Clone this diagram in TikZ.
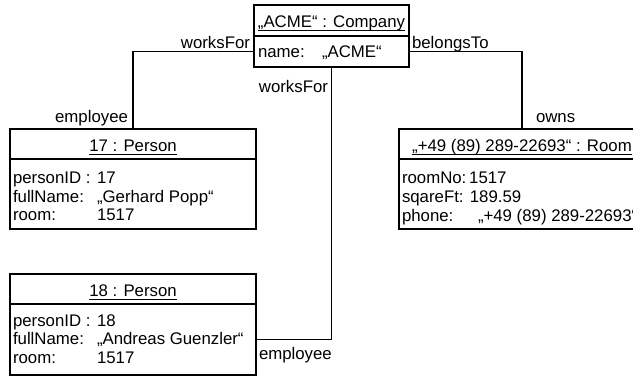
\documentclass[tikz,border=0pt]{standalone}
\usepackage{fontspec}
\setmainfont{Liberation Sans}
% underline drawn as a rule of fixed thickness under the text
\newcommand{\ulined}[1]{\setbox0\hbox{#1}\rlap{\rule[-4.4pt]{\wd0}{1.2pt}}\box0}
\begin{document}
\begin{tikzpicture}[x=1pt,y=-1pt,
  txt/.style={font=\fontsize{16.8}{20}\selectfont, inner sep=0pt, outer sep=0pt},
  lbl/.style={txt, anchor=base west},
  rlbl/.style={txt, anchor=base east},
  ttl/.style={txt, anchor=base},
  compart/.style={draw, line width=1.2pt, anchor=north west, inner sep=0pt, outer sep=0pt},
  link/.style={draw, line width=1.2pt}]
\useasboundingbox (0,0) rectangle (633,376);
\clip (0,0) rectangle (633,376);

% --- object "ACME" : Company ---
\node[compart, minimum width=155pt, minimum height=31pt] (cT) at (254,5) {};
\node[compart, minimum width=155pt, minimum height=31pt] (cA) at (254,36) {};
\node[ttl] (cTitle) at (331.5,27) {\ulined{„ACME“ : Company}};
\node[lbl] (cName) at (258,57) {name:};
\node[lbl] (cNameV) at (322,57) {„ACME“};

% --- object 17 : Person ---
\node[compart, minimum width=246pt, minimum height=30pt] (p17T) at (10,129) {};
\node[compart, minimum width=246pt, minimum height=70pt] (p17A) at (10,159) {};
\node[ttl] (p17Title) at (133,151) {\ulined{17 : Person}};
\node[lbl] (p17a1) at (13,183) {personID :};
\node[lbl] (p17v1) at (97,183) {17};
\node[lbl] (p17a2) at (13,202) {fullName:};
\node[lbl] (p17v2) at (97,202) {„Gerhard Popp“};
\node[lbl] (p17a3) at (13,220) {room:};
\node[lbl] (p17v3) at (97,220) {1517};

% --- object 18 : Person ---
\node[compart, minimum width=246pt, minimum height=30pt] (p18T) at (10,274) {};
\node[compart, minimum width=246pt, minimum height=71pt] (p18A) at (10,304) {};
\node[ttl] (p18Title) at (133,296) {\ulined{18 : Person}};
\node[lbl] (p18a1) at (13,326) {personID :};
\node[lbl] (p18v1) at (97,326) {18};
\node[lbl] (p18a2) at (13,344) {fullName:};
\node[lbl] (p18v2) at (97,344) {„Andreas Guenzler“};
\node[lbl] (p18a3) at (13,363) {room:};
\node[lbl] (p18v3) at (97,363) {1517};

% --- object "+49 (89) 289-22693" : Room ---
\node[compart, minimum width=246pt, minimum height=30pt] (rT) at (399,129) {};
\node[compart, minimum width=246pt, minimum height=70pt] (rA) at (399,159) {};
\node[ttl] (rTitle) at (522,151) {\ulined{„+49 (89) 289-22693“ : Room}};
\node[lbl] (ra1) at (402,183) {roomNo:\,1517};
\node[lbl] (ra2) at (402,202) {sqareFt: 189.59};
\node[lbl] (ra3) at (402,221) {phone:};
\node[lbl] (rv3) at (478,221) {„+49 (89) 289-22693“};

% --- links ---
\draw[link] (cA.west) -| (p17T.north);
\draw[link] (cA.east) -| (rT.north);
\draw[link] (cA.south) |- (p18A.east);

% --- role names ---
\node[rlbl] (wf1) at (250,48) {worksFor};
\node[lbl] (bt) at (412,48) {belongsTo};
\node[rlbl] (em1) at (128,122) {employee};
\node[lbl] (ow) at (536,122) {owns};
\node[rlbl] (wf2) at (328,92) {worksFor};
\node[lbl] (em2) at (259,359) {employee};
\end{tikzpicture}
\end{document}
